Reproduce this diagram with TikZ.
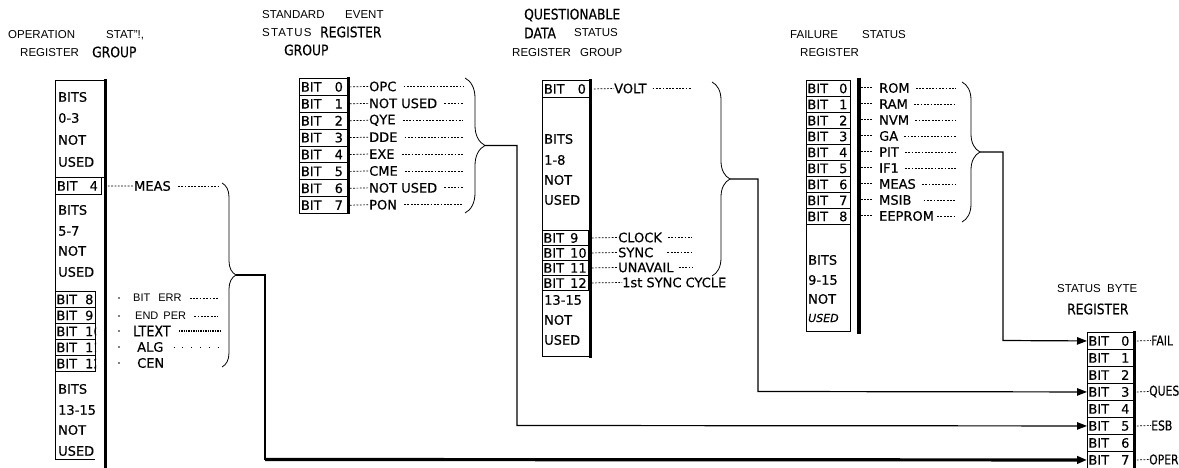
\documentclass[tikz,border=0pt]{standalone}
\usepackage{fontspec}
\setmainfont{Liberation Sans}
\newfontfamily\lett[FakeBold=0.4]{DejaVu Sans}
\newfontfamily\lettc[FakeBold=0.4,FakeStretch=0.8]{DejaVu Sans}
\newfontfamily\handf[FakeStretch=0.85,FakeBold=0.4]{DejaVu Sans}
\usetikzlibrary{decorations.pathreplacing,arrows.meta}
\newcommand\bl[3]{\makebox[#1][l]{BIT\hspace{#2}#3}}
\begin{document}
\begin{tikzpicture}[x=1pt,y=-1pt,
  sans/.style={font=\fontsize{11.5}{12}\selectfont, inner sep=0pt, anchor=west},
  hand/.style={font=\handf\fontsize{14.5}{15}\selectfont, inner sep=0pt, anchor=west},
  lt/.style={font=\lett\fontsize{13}{13}\selectfont, inner sep=0pt, anchor=west},
  ltc/.style={font=\lettc\fontsize{13.5}{14}\selectfont, inner sep=0pt, anchor=west},
  bitbox/.style={draw, line width=0.9pt, inner sep=0pt, anchor=north west, font=\lett\fontsize{13}{13}\selectfont},
  leader/.style={line width=0.7pt, dash pattern=on 1.8pt off 1.5pt},
  thickedge/.style={line width=2.8pt},
  thinedge/.style={line width=0.8pt},
  conn/.style={line width=1.2pt},
  bracestyle/.style={decorate, decoration={brace, amplitude=#1}, line width=0.8pt},
  arr/.style={-{Triangle[length=10pt,width=7.5pt]}},
]
\useasboundingbox (0,0) rectangle (1179,468);

% ================= OPERATION STATUS REGISTER GROUP =================
\node[sans] (oh1) at (8,35) {OPERATION};
\node[sans] (oh2) at (106,35) {STAT"!,};
\node[sans] (oh3) at (20,53) {REGISTER};
\node[hand] (oh4) at (92,52) {GROUP};
\draw[thinedge] (104,80) -- (55,80) -- (55,459) -- (95,459);
\draw[thinedge] (55,177) -- (104,177);
\draw[thickedge] (105.5,79) -- (105.5,468);
\foreach \t/\y in {BITS/97,0-3/118,NOT/140,USED/162,BITS/210,5-7/231,NOT/251,USED/272,BITS/389,13-15/410,NOT/430,USED/451}
  \node[lt] at (58,\y) {\t};
\node[bitbox, minimum width=46pt, minimum height=17pt] (op4) at (55,177) {\bl{43pt}{12pt}{4}};
\begin{scope}
  \clip (53,289) rectangle (96,374);
  \foreach \i in {8,...,12}
    \node[bitbox, minimum width=40pt, minimum height=16pt] (op\i) at (55,{291+16*(\i-8)}) {\bl{38pt}{8pt}{\i}};
\end{scope}
\node[lt] (meas) at (134,186) {MEAS};
\draw[leader] (op4.east) ++(6,0) -- (meas.west);
\coordinate (measE) at (218,186);
\draw[leader] (meas.east) ++(7,0) -- (measE);
\node[sans, font=\fontsize{11}{12}\selectfont] (lerr) at (133,298) {BIT\hspace{8pt}ERR};
\node[sans, font=\fontsize{11}{12}\selectfont] (lper) at (135,316) {END\hspace{5pt}PER};
\node[hand, font=\handf\fontsize{15}{15}\selectfont] (ltext) at (133,331) {LTEXT};
\node[lt] (lalg) at (137,347) {ALG};
\node[lt] (lcen) at (137,363) {CEN};
\coordinate (e1) at (218,298); \coordinate (e2) at (218,316);
\coordinate (e3) at (220,331); \coordinate (e4) at (220,347);
\draw[leader] (lerr.east) ++(8,0) -- (e1);
\draw[leader] (lper.east) ++(8,0) -- (e2);
\draw[line width=1.4pt, dash pattern=on 1.4pt off 1pt] (ltext.east) ++(8,0) -- (e3);
\draw[line width=0.6pt, dash pattern=on 0.8pt off 8pt] (lalg.east) ++(10,0) -- (e4);
\foreach \y in {298,316,331,347,363}
  \fill (119,\y) circle (0.9pt);
\coordinate (obt) at (222,183);
\coordinate (obb) at (222,367);
\draw[bracestyle=14pt] (obt) -- (obb);
\coordinate (opc) at (236,275);
\coordinate (opturn) at (265,459.5);

% ================= STANDARD EVENT STATUS REGISTER GROUP =================
\node[sans] (sh1) at (262,15) {STANDARD};
\node[sans] (sh2) at (345,15) {EVENT};
\node[sans, font=\addfontfeatures{LetterSpace=10}\fontsize{11.5}{12}\selectfont] (sh3) at (262,33) {STATUS};
\node[hand] (sh4) at (320,32) {REGISTER};
\node[hand] (sh5) at (284,50) {GROUP};
\foreach \i/\t in {0/OPC,1/NOT USED,2/QYE,3/DDE,4/EXE,5/CME,6/NOT USED,7/PON} {
  \node[bitbox, minimum width=48pt, minimum height=16.9pt] (se\i) at (299,{78+16.9*\i}) {\bl{45pt}{13pt}{\i}};
  \node[lt] (sel\i) at (369,{78+16.9*\i+8.45}) {\t};
  \coordinate (see\i) at (463,{78+16.9*\i+8.45});
  \draw[leader] (se\i.east) ++(2,0) -- (sel\i.west);
  \draw[leader] (sel\i.east) ++(7,0) -- (see\i);
}
\draw[thickedge] (348.5,77) -- (348.5,214);
\coordinate (sbt) at (465,78);
\coordinate (sbb) at (465,213);
\draw[bracestyle=20pt] (sbt) -- (sbb);
\coordinate (sec) at (485,145.5);
\coordinate (seturn) at (517,425.5);

% ================= QUESTIONABLE DATA STATUS REGISTER GROUP =================
\node[hand] (qh1) at (524,15) {QUESTIONABLE};
\node[hand] (qh2) at (524,33) {DATA};
\node[sans] (qh3) at (574,33) {STATUS};
\node[sans] (qh4) at (512,53) {REGISTER};
\node[sans] (qh5) at (580,53) {GROUP};
\draw[thinedge] (542,97) -- (542,356) -- (590,356);
\draw[thickedge] (590.5,79) -- (590.5,358);
\node[bitbox, minimum width=48pt, minimum height=17pt] (q0) at (542,80) {\bl{45pt}{13pt}{0}};
\foreach \t/\y in {BITS/139,1-8/160,NOT/180,USED/200,13-15/300,NOT/320,USED/340}
  \node[lt] at (544,\y) {\t};
\foreach \i in {9,...,12}
  \node[bitbox, minimum width=46pt, minimum height=15pt] (q\i) at (542,{230+15*(\i-9)}) {\bl{44pt}{6pt}{\i}};
\node[lt] (ql0) at (614,88.5) {VOLT};
\node[lt] (ql9) at (618,237.5) {CLOCK};
\node[lt] (ql10) at (618,252.5) {SYNC};
\node[lt] (ql11) at (618,267.5) {UNAVAIL};
\node[lt] (ql12) at (622,282.5) {1st SYNC CYCLE};
\foreach \i in {0,9,10,11,12}
  \draw[leader] (q\i.east) ++(3,0) -- (ql\i.west);
\coordinate (qe0) at (692,88.5); \coordinate (qe9) at (692,237.5);
\coordinate (qe10) at (692,252.5); \coordinate (qe11) at (692,267.5);
\draw[leader] (ql0.east) ++(6,0) -- (qe0);
\draw[leader] (ql9.east) ++(6,0) -- (qe9);
\draw[leader] (ql10.east) ++(14,0) -- (qe10);
\draw[leader] (ql11.east) ++(5,0) -- (qe11);
\coordinate (qbt) at (712,82);
\coordinate (qbb) at (712,276);
\draw[bracestyle=18pt] (qbt) -- (qbb);
\coordinate (qc) at (730,179);
\coordinate (qturn) at (758,391.5);

% ================= FAILURE STATUS REGISTER =================
\node[sans] (fh1) at (790,35) {FAILURE};
\node[sans] (fh2) at (862,35) {STATUS};
\node[sans] (fh3) at (800,53) {REGISTER};
\foreach \i/\t in {0/ROM,1/RAM,2/NVM,3/GA,4/PIT,5/IF1,6/MEAS,7/MSIB,8/EEPROM} {
  \node[bitbox, minimum width=44pt, minimum height=16pt] (f\i) at (806,{80+16*\i}) {\bl{42pt}{11pt}{\i}};
  \node[lt] (fl\i) at (879,{80+16*\i+8}) {\t};
  \coordinate (fe\i) at (956,{80+16*\i+8});
  \draw[line width=1pt, dash pattern=on 1.5pt off 1.5pt] (861,{80+16*\i+8}) -- ++(12,0);
}
\foreach \i in {0,...,6}
  \draw[leader] (fl\i.east) ++(6,0) -- (fe\i);
\draw[leader] (fl7.east) ++(12,0) -- (fe7);
\draw[leader] (fl8.east) ++(3,0) -- (fe8);
\draw[thinedge] (806,224) -- (806,331) -- (850,331) -- (850,224);
\foreach \t/\y in {BITS/260,9-15/280,NOT/299}
  \node[lt] at (808,\y) {\t};
\node[lt, font=\lett\itshape\fontsize{11}{12}\selectfont] at (808,318) {USED};
\draw[line width=3.2pt] (859,78) -- (859,334);
\coordinate (fbt) at (962,82);
\coordinate (fbb) at (962,222);
\draw[bracestyle=18pt] (fbt) -- (fbb);
\coordinate (fc) at (980,152);
\coordinate (fturn) at (1003,340.5);

% ================= STATUS BYTE REGISTER =================
\node[sans] (bh1) at (1057,289) {STATUS};
\node[sans] (bh2) at (1107,289) {BYTE};
\node[hand] (bh3) at (1067,309) {REGISTER};
\foreach \i in {0,...,7}
  \node[bitbox, minimum width=46pt, minimum height=17pt] (sb\i) at (1087,{332+17*\i}) {\bl{44pt}{12pt}{\i}};
\draw[thickedge] (1134.5,331) -- (1134.5,468);
\node[ltc] (sfail) at (1151,340.5) {FAIL};
\node[ltc] (sques) at (1149,391.5) {QUES};
\node[ltc] (sesb) at (1151,425.5) {ESB};
\node[ltc] (soper) at (1149,459.5) {OPER};
\draw[leader] (sb0.east) ++(3,0) -- (sfail.west);
\draw[leader] (sb3.east) ++(3,0) -- (sques.west);
\draw[leader] (sb5.east) ++(3,0) -- (sesb.west);
\draw[leader] (sb7.east) ++(3,0) -- (soper.west);

% ================= CONNECTORS =================
\draw[conn] (opc) -| (opturn);
\draw[line width=3.2pt, arr] (opturn) -- (sb7.west);
\draw[conn, arr] (sec) -| (seturn) -- (sb5.west);
\draw[conn, arr] (qc) -| (qturn) -- (sb3.west);
\draw[conn, arr] (fc) -| (fturn) -- (sb0.west);
\end{tikzpicture}
\end{document}
